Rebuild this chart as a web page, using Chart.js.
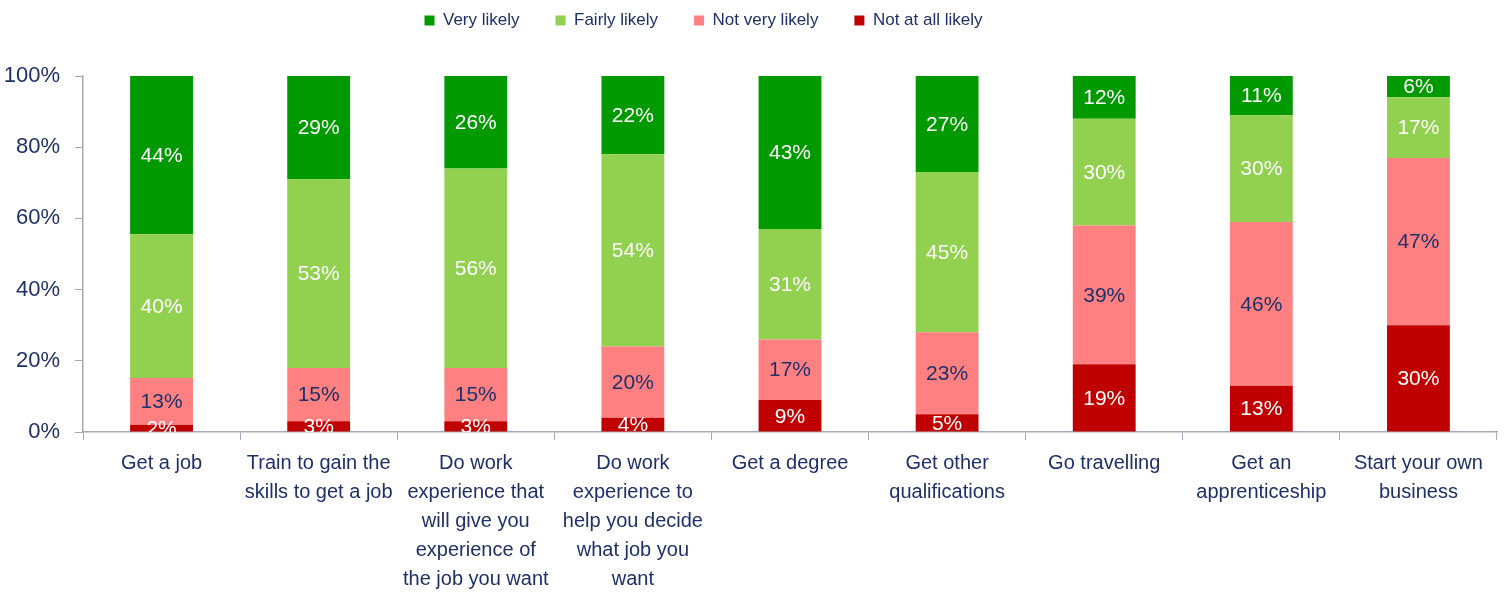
<!DOCTYPE html>
<html>
<head>
<meta charset="utf-8">
<script src="https://cdn.jsdelivr.net/npm/chart.js@4"></script>
<style>
  html, body { margin: 0; padding: 0; background: #fff; }
  #wrap { width: 1506px; height: 592px; }
</style>
</head>
<body>
<div id="wrap"><canvas id="myChart" width="1506" height="592"></canvas></div>
<script>
// categories (multi-line labels as in the picture)
const categories = [
  ["Get a job"],
  ["Train to gain the", "skills to get a job"],
  ["Do work", "experience that", "will give you", "experience of", "the job you want"],
  ["Do work", "experience to", "help you decide", "what job you", "want"],
  ["Get a degree"],
  ["Get other", "qualifications"],
  ["Go travelling"],
  ["Get an", "apprenticeship"],
  ["Start your own", "business"]
];
const seriesNames = ["Very likely", "Fairly likely", "Not very likely", "Not at all likely"];
const veryLikely     = [44, 29, 26, 22, 43, 27, 12, 11, 6];
const fairlyLikely   = [40, 53, 56, 54, 31, 45, 30, 30, 17];
const notVeryLikely  = [13, 15, 15, 20, 17, 23, 39, 46, 47];
const notAtAllLikely = [2, 3, 3, 4, 9, 5, 19, 13, 30];
const yTicks = [0, 20, 40, 60, 80, 100];

const navy = '#1F3068';
const colors = ['#009900', '#92D050', '#FF8080', '#C00000'];
const labelColors = ['#ffffff', '#ffffff', navy, '#ffffff'];
const font = '"Liberation Sans", Arial, sans-serif';

// 100% stacked: each bar is scaled to its own total
const srcBySeries = [veryLikely, fairlyLikely, notVeryLikely, notAtAllLikely];
const totals = categories.map((c, i) => srcBySeries.reduce((s, arr) => s + arr[i], 0));
function share(arr) { return arr.map((v, i) => v / totals[i] * 100); }

const datasets = seriesNames.map((name, k) => ({
  label: name,
  data: share(srcBySeries[k]),
  raw: srcBySeries[k],
  backgroundColor: colors[k],
  borderWidth: 0,
  labelColor: labelColors[k]
}));
// stack from the bottom: not at all likely first
const stackedSets = datasets.slice().reverse();

const barLabels = {
  id: 'barLabels',
  afterDatasetsDraw(chart) {
    const ctx = chart.ctx;
    const area = chart.chartArea;
    ctx.save();
    ctx.beginPath();
    ctx.rect(area.left, area.top, area.right - area.left, area.bottom - area.top);
    ctx.clip();
    ctx.font = '21px ' + font;
    ctx.textAlign = 'center';
    ctx.textBaseline = 'middle';
    chart.data.datasets.forEach((ds, di) => {
      const meta = chart.getDatasetMeta(di);
      meta.data.forEach((bar, i) => {
        const mid = (bar.y + bar.base) / 2;
        ctx.fillStyle = ds.labelColor;
        ctx.fillText(ds.raw[i] + '%', bar.x, mid + 1);
      });
    });
    ctx.restore();
  }
};

// legend box takes the space above the plot; items sit near the top, a bit left of centre
const legendShift = {
  id: 'legendShift',
  beforeInit(chart) {
    const fit = chart.legend.fit;
    chart.legend.fit = function () { fit.call(this); this.height = 76; };
  },
  afterLayout(chart) {
    const lg = chart.legend;
    lg.top -= 24;
    lg.left -= 45;
    lg.right -= 45;
  }
};

new Chart(document.getElementById('myChart'), {
  type: 'bar',
  data: { labels: categories, datasets: stackedSets },
  options: {
    responsive: false,
    animation: false,
    layout: { padding: { top: 0, right: 9, left: 0, bottom: 0 } },
    datasets: { bar: { categoryPercentage: 1.0, barPercentage: 0.4 } },
    plugins: {
      legend: {
        position: 'top',
        reverse: true,
        labels: {
          boxWidth: 10, boxHeight: 10, padding: 36,
          color: navy,
          font: { family: font, size: 17 }
        }
      },
      tooltip: { enabled: false }
    },
    scales: {
      x: {
        stacked: true,
        grid: { drawOnChartArea: false, drawTicks: true, tickLength: 8, color: '#A6A8B8', offset: true },
        border: { color: '#A6A8B8', width: 1.5 },
        ticks: {
          color: navy, maxRotation: 0, autoSkip: false, padding: 9,
          font: { family: font, size: 20, lineHeight: 1.45 }
        },
        afterFit(scale) { scale.height = 160; }
      },
      y: {
        stacked: true,
        min: 0, max: 100,
        afterBuildTicks(scale) { scale.ticks = yTicks.map(v => ({ value: v })); },
        grid: { drawOnChartArea: false, drawTicks: true, tickLength: 8, color: '#A6A8B8' },
        border: { color: '#A6A8B8', width: 1.5 },
        ticks: {
          color: navy, padding: 15,
          font: { family: font, size: 22 },
          callback: v => v + '%'
        },
        afterFit(scale) { scale.width = 83; }
      }
    }
  },
  plugins: [barLabels, legendShift]
});
</script>
</body>
</html>
